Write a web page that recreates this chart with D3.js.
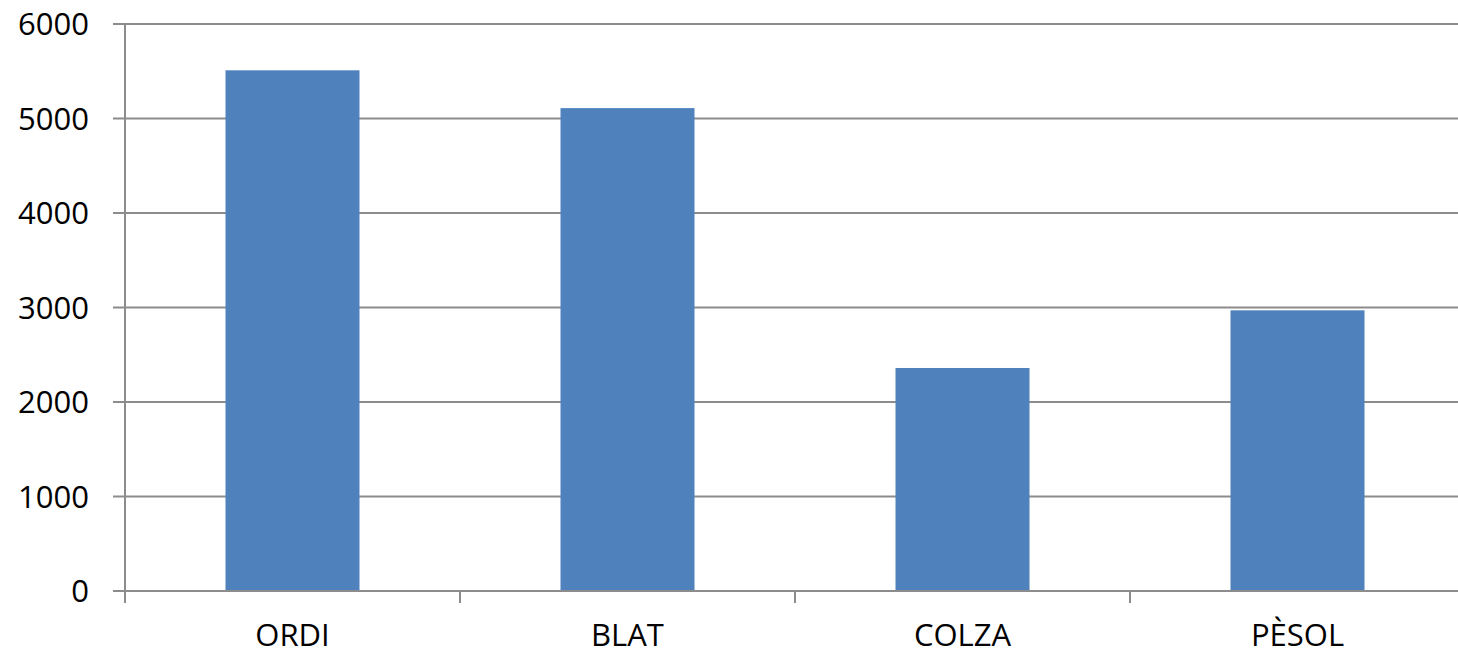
<!DOCTYPE html>
<html>
<head>
<meta charset="utf-8">
<script src="https://cdn.jsdelivr.net/npm/d3@7"></script>
<style>
  body { margin: 0; background: #fff; }
  text { font-family: "Open Sans", "Liberation Sans", sans-serif; }
</style>
</head>
<body>
<script>
var width  = 1458;
var height = 655;

var categories = ['ORDI', 'BLAT', 'COLZA', 'PÈSOL'];
var values     = [5510, 5110, 2360, 2970];
var yTicks     = [0, 1000, 2000, 3000, 4000, 5000, 6000];

var plotLeft = 125, plotRight = 1465, plotTop = 24, plotBottom = 591;

var svg = d3.select('body')
            .append('svg')
            .attr('width', width)
            .attr('height', height);

var x = d3.scaleBand()
          .domain(categories)
          .range([plotLeft, plotRight]);

var y = d3.scaleLinear()
          .domain([0, 6000])
          .range([plotBottom, plotTop]);

// gridlines + y ticks
svg.append('g')
   .selectAll('line')
   .data(yTicks)
   .enter()
   .append('line')
   .attr('x1', plotLeft - 12)
   .attr('x2', width)
   .attr('y1', function(d){ return y(d); })
   .attr('y2', function(d){ return y(d); })
   .attr('stroke', '#8c8c8c')
   .attr('stroke-width', 2);

// y axis line
svg.append('line')
   .attr('x1', plotLeft).attr('x2', plotLeft)
   .attr('y1', plotTop).attr('y2', plotBottom + 12)
   .attr('stroke', '#8c8c8c')
   .attr('stroke-width', 2);

// category ticks
svg.append('g')
   .selectAll('line')
   .data(categories.slice(1))
   .enter()
   .append('line')
   .attr('x1', function(d){ return x(d); })
   .attr('x2', function(d){ return x(d); })
   .attr('y1', plotBottom)
   .attr('y2', plotBottom + 12)
   .attr('stroke', '#8c8c8c')
   .attr('stroke-width', 2);

var bw = x.bandwidth();

svg.append('g')
   .selectAll('rect')
   .data(values)
   .enter()
   .append('rect')
   .attr('x', function(d, i){ return x(categories[i]) + bw * 0.3; })
   .attr('width', bw * 0.4)
   .attr('y', function(d){ return y(d); })
   .attr('height', function(d){ return plotBottom - y(d); })
   .attr('fill', '#4f81bd');

// redraw baseline over bars
svg.append('line')
   .attr('x1', plotLeft - 12).attr('x2', width)
   .attr('y1', plotBottom).attr('y2', plotBottom)
   .attr('stroke', '#8c8c8c')
   .attr('stroke-width', 2);

svg.append('g')
   .selectAll('text')
   .data(yTicks)
   .enter()
   .append('text')
   .attr('x', 89)
   .attr('y', function(d){ return y(d); })
   .attr('dy', '0.36em')
   .attr('text-anchor', 'end')
   .attr('font-size', '31px')
   .attr('fill', '#000')
   .text(function(d){ return d; });

svg.append('g')
   .selectAll('text')
   .data(categories)
   .enter()
   .append('text')
   .attr('x', function(d){ return x(d) + bw / 2; })
   .attr('y', 646)
   .attr('text-anchor', 'middle')
   .attr('font-size', '31px')
   .attr('fill', '#000')
   .text(function(d){ return d; });
</script>
</body>
</html>
